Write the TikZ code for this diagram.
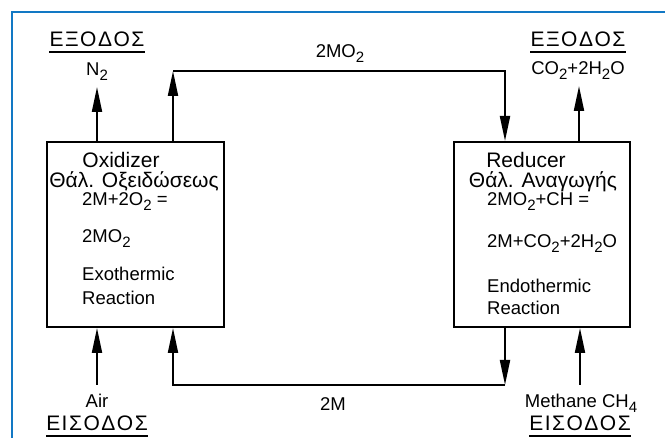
\documentclass[tikz,border=0pt]{standalone}
\usepackage{fontspec}
\setmainfont{Liberation Sans}
\usetikzlibrary{arrows.meta}
\definecolor{frameblue}{RGB}{18,120,196}
\newcommand\dn[1]{\raisebox{-4.5pt}{\fontsize{15}{15}\selectfont #1}}
\newcommand\spc[1]{\kern#1pt\relax}
\newcommand\exodos{Ε\spc{1.5}Ξ\spc{1.5}Ο\spc{1.5}Δ\spc{1.5}Ο\spc{1.5}Σ}
\newcommand\eisodos{Ε\spc{1.5}Ι\spc{1.5}Σ\spc{1.5}Ο\spc{1.5}Δ\spc{1.5}Ο\spc{1.5}Σ}
\begin{document}
\begin{tikzpicture}[x=1pt,y=-1pt,
  reactor/.style={draw, line width=2pt, minimum height=185pt, inner sep=0pt},
  flow/.style={line width=2pt, line join=miter, -{Triangle[length=25pt,width=10pt]}},
  lbl/.style={anchor=base, inner sep=0pt, font=\fontsize{18.5}{20}\selectfont},
  lblw/.style={anchor=base west, inner sep=0pt, font=\fontsize{18.5}{20}\selectfont},
  head/.style={anchor=base, inner sep=0pt, font=\fontsize{21}{23}\selectfont},
  title/.style={anchor=base, inner sep=0pt, font=\fontsize{21}{23}\selectfont},
  uline/.style={line width=1.6pt}]
\useasboundingbox (0,0) rectangle (665,438);
\fill[white] (0,0) rectangle (665,438);
\draw[frameblue, line width=2.2pt] (665,12) -- (12,12) -- (12,438);

% reactors
\node[reactor, minimum width=177pt] (ox) at (135.5,234.5) {};
\node[reactor, minimum width=176pt] (red) at (542,234.5) {};

% coordinates
\coordinate (n2top) at (97,87);
\coordinate (c1) at (173,71);
\coordinate (c2) at (505,71);
\coordinate (co2top) at (579,86);
\coordinate (air) at (97,385);
\coordinate (c3) at (505,385);
\coordinate (c4) at (173,385);
\coordinate (meth) at (580,385);

% connectors
\draw[flow] (n2top |- ox.north) -- (n2top);
\draw[flow] (c1 |- ox.north) -- (c1);
\draw[flow] (c1) -- (c2) -- (c2 |- red.north);
\draw[flow] (co2top |- red.north) -- (co2top);
\draw[flow] (air) -- (air |- ox.south);
\draw[flow] (c3 |- red.south) -- (c3);
\draw[flow] (c3) -- (c4) -- (c4 |- ox.south);
\draw[flow] (meth) -- (meth |- red.south);

% top labels
\node[title] (outL) at (97,47) {\exodos};
\draw[uline] ([yshift=-5pt]outL.base west) -- ([yshift=-5pt]outL.base east);
\node[lbl] (n2) at (97,76) {N\dn{2}};
\node[lbl] (mo2) at (340,58) {2MO\dn{2}};
\node[title] (outR) at (578,47) {\exodos};
\draw[uline] ([yshift=-5pt]outR.base west) -- ([yshift=-5pt]outR.base east);
\node[lbl] (co2) at (578,75) {CO\dn{2}+2H\dn{2}O};

% left box text
\node[head] (oxt) at (121,168) {Oxidizer};
\node[head] (oxg) at (134,188) {Θάλ. Οξειδώσεως};
\node[lblw] (oxe1) at (82,206) {2M+2O\dn{2} =};
\node[lblw] (oxe2) at (82,243) {2MO\dn{2}};
\node[lblw] (oxr1) at (82,281) {Exothermic};
\node[lblw] (oxr2) at (82,305) {Reaction};

% right box text
\node[head] (rdt) at (526,168) {Reducer};
\node[head] (rdg) at (543,188) {Θάλ. Αναγωγής};
\node[lblw] (rde1) at (487,206) {2MO\dn{2}+CH =};
\node[lblw] (rde2) at (487,248) {2M+CO\dn{2}+2H\dn{2}O};
\node[lblw] (rdr1) at (487,293) {Endothermic};
\node[lblw] (rdr2) at (487,315) {Reaction};

% bottom labels
\node[lbl] (airt) at (97,408) {Air};
\node[title] (inL) at (97,431) {\eisodos};
\draw[uline] ([yshift=-5pt]inL.base west) -- ([yshift=-5pt]inL.base east);
\node[lbl] (m2) at (333,411) {2M};
\node[lbl] (metht) at (581,408) {Methane CH\dn{4}};
\node[title] (inR) at (580,431) {\eisodos};
\draw[uline] ([yshift=-5pt]inR.base west) -- ([yshift=-5pt]inR.base east);
\end{tikzpicture}
\end{document}
